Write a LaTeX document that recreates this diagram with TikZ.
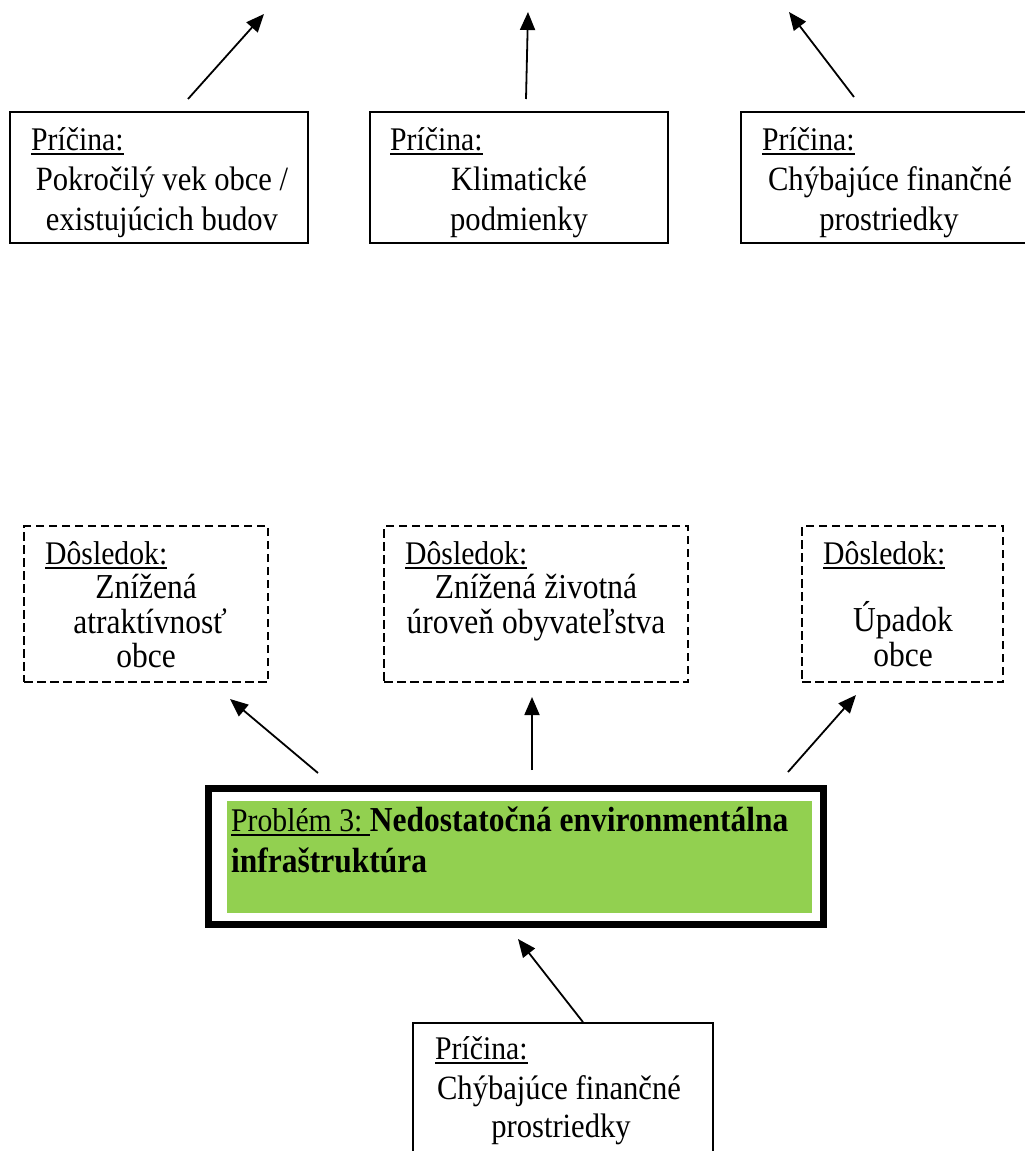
\documentclass[tikz,border=0pt]{standalone}
\usepackage{fontspec}
\setmainfont[FakeStretch=0.9]{Liberation Serif}
\usetikzlibrary{arrows.meta}
\definecolor{probgreen}{HTML}{92D050}
\newcommand\myul[1]{\leavevmode\setbox0=\hbox{#1}\rlap{\copy0}\raisebox{-4.6pt}{\rule{\wd0}{2pt}}}
\begin{document}
\begin{tikzpicture}[x=1pt,y=-1pt,
  causebox/.style={draw, line width=1.7pt, inner sep=0pt, rectangle},
  effectbox/.style={draw, line width=2.8pt, dash pattern=on 8.5pt off 4.5pt, inner sep=0pt, rectangle},
  arr/.style={line width=1.8pt, -{Triangle[length=18pt,width=15pt]}},
  ctext/.style={inner sep=0pt, font=\fontsize{34}{40}\selectfont},
  etext/.style={inner sep=0pt, font=\fontsize{35}{35}\selectfont},
  hdtext/.style={inner sep=0pt, font=\fontsize{33}{35}\selectfont},
  ptext/.style={inner sep=0pt, font=\fontsize{33}{40}\selectfont},
]
\useasboundingbox (0,0) rectangle (1025,1151);
\clip (0,0) rectangle (1025,1151);

% ---- top cause boxes
\node[causebox, minimum width=298pt, minimum height=131pt] (c1) at (159,177.5) {};
\node[causebox, minimum width=298pt, minimum height=131pt] (c2) at (519,177.5) {};
\node[causebox, minimum width=298pt, minimum height=131pt] (c3) at (890,177.5) {};

\node[hdtext, anchor=base west] (c1h) at (31,150) {\myul{Príčina:}};
\node[ctext, anchor=base] (c1a) at (162,190) {Pokročilý vek obce /};
\node[ctext, anchor=base] (c1b) at (162,230) {existujúcich budov};

\node[hdtext, anchor=base west] (c2h) at (390,150) {\myul{Príčina:}};
\node[ctext, anchor=base] (c2a) at (519,190) {Klimatické};
\node[ctext, anchor=base] (c2b) at (519,230) {podmienky};

\node[hdtext, anchor=base west] (c3h) at (762,150) {\myul{Príčina:}};
\node[ctext, anchor=base] (c3a) at (890,190) {Chýbajúce finančné};
\node[ctext, anchor=base] (c3b) at (889,230) {prostriedky};

\coordinate (a1s) at (188,99);  \coordinate (a1e) at (264,14);
\coordinate (a2s) at (526,99);  \coordinate (a2e) at (528,12);
\coordinate (a3s) at (854,97);  \coordinate (a3e) at (789,12);
\draw[arr] (a1s) -- (a1e);
\draw[arr] (a2s) -- (a2e);
\draw[arr] (a3s) -- (a3e);

% ---- dashed consequence boxes
\node[effectbox, minimum width=244pt, minimum height=156pt] (e1) at (146,604) {};
\node[effectbox, minimum width=304pt, minimum height=156pt] (e2) at (536,604) {};
\node[effectbox, minimum width=201pt, minimum height=156pt] (e3) at (902.5,604) {};

\node[hdtext, anchor=base west] (e1h) at (45,564) {\myul{Dôsledok:}};
\node[etext, anchor=base] (e1a) at (146,598) {Znížená};
\node[etext, anchor=base] (e1b) at (150,633) {atraktívnosť};
\node[etext, anchor=base] (e1c) at (146,667) {obce};

\node[hdtext, anchor=base west] (e2h) at (405,564) {\myul{Dôsledok:}};
\node[etext, anchor=base] (e2a) at (536,598) {Znížená životná};
\node[etext, anchor=base] (e2b) at (536,633) {úroveň obyvateľstva};

\node[hdtext, anchor=base west] (e3h) at (823,564) {\myul{Dôsledok:}};
\node[etext, anchor=base] (e3a) at (903,631) {Úpadok};
\node[etext, anchor=base] (e3b) at (903,666) {obce};

% ---- problem box
\node[draw, line width=7pt, minimum width=615pt, minimum height=136pt, inner sep=0pt] (p) at (516,856.5) {};
\node[fill=probgreen, minimum width=585pt, minimum height=112pt, inner sep=0pt] (pg) at (519.5,857) {};
\node[ptext, anchor=base west] (p1) at (231,831) {\myul{Problém 3:\ }{\fontsize{35}{40}\selectfont\bfseries Nedostatočná environmentálna}};
\node[ptext, anchor=base west] (p2) at (231,872) {\fontsize{35}{40}\selectfont\bfseries infraštruktúra};

\coordinate (d1s) at (318,773); \coordinate (d1e) at (230,699);
\coordinate (d2s) at (532,770); \coordinate (d2e) at (532,697);
\coordinate (d3s) at (788,772); \coordinate (d3e) at (856,695);
\draw[arr] (d1s) -- (d1e);
\draw[arr] (d2s) -- (d2e);
\draw[arr] (d3s) -- (d3e);

% ---- bottom cause box
\node[causebox, minimum width=300pt, minimum height=154pt] (c4) at (563,1100) {};
\node[hdtext, anchor=base west] (c4h) at (435,1059) {\myul{Príčina:}};
\node[ctext, anchor=base] (c4a) at (559,1099) {Chýbajúce finančné};
\node[ctext, anchor=base] (c4b) at (561,1137) {prostriedky};

\coordinate (b1e) at (518,939);
\draw[arr] (c4.north -| 583,0) -- (b1e);
\end{tikzpicture}
\end{document}
